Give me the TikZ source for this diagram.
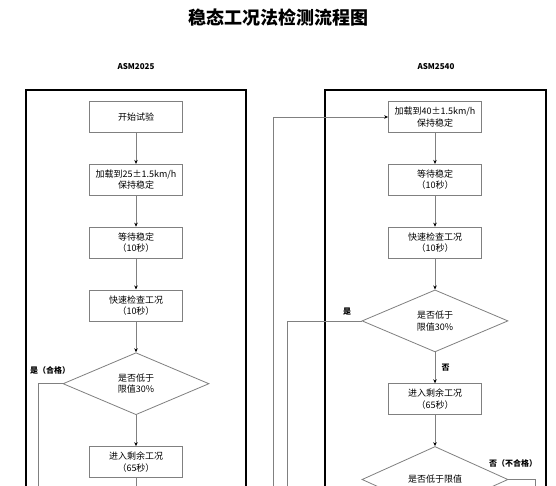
\documentclass[tikz,border=0pt]{standalone}
\usepackage{fontspec}
\setmainfont{Noto Sans CJK SC}
\usetikzlibrary{arrows.meta,positioning,shapes.geometric}

\begin{document}
\begin{tikzpicture}[x=1pt,y=-1pt,
  box/.style={draw=gray,line width=0.8pt,minimum width=93pt,minimum height=31pt,
    inner sep=1pt,align=center,font=\fontsize{9}{11.5}\selectfont},
  decide/.style={draw=gray,line width=0.8pt,diamond,minimum width=146pt,minimum height=62pt,
    inner sep=0pt,align=center,font=\fontsize{9}{11.5}\selectfont},
  flow/.style={draw=gray,line width=0.8pt,-{Stealth[length=4pt,width=3.5pt,color=black]}},
  plain/.style={draw=gray,line width=0.8pt},
  frame/.style={draw=black,line width=1.6pt},
  lab/.style={font=\bfseries\fontsize{8}{9}\selectfont},
  node distance=31pt]
\useasboundingbox (0,0) rectangle (556,485);
\clip (0,0) rectangle (556,485);
\fill[white] (0,0) rectangle (556,485);

% title and column heads
\node[font=\bfseries\fontsize{18}{20}\selectfont] (title) at (278,18) {稳态工况法检测流程图};
\node[lab] (headA) at (136,67) {ASM2025};
\node[lab] (headB) at (436,67) {ASM2540};

% frames
\draw[frame] (26,90) rectangle (246,520);
\draw[frame] (325,90) rectangle (546,520);

% ASM2025
\node[box] (a1) at (136,117) {开始试验};
\node[box,below=of a1] (a2) {加载到25±1.5km/h\\保持稳定};
\node[box,below=of a2] (a3) {等待稳定\\（10秒）};
\node[box,below=of a3] (a4) {快速检查工况\\（10秒）};
\node[decide,below=of a4] (ad) {是否低于\\限值30\%};
\node[box,below=of ad] (a5) {进入剩余工况\\（65秒）};
\coordinate (aend) at (136,520);
\coordinate (ayes) at (38,520);

\draw[flow] (a1) -- (a2);
\draw[flow] (a2) -- (a3);
\draw[flow] (a3) -- (a4);
\draw[flow] (a4) -- (ad);
\draw[flow] (ad) -- (a5);
\draw[plain] (a5) -- (aend);
\draw[plain] (ad.west) -| (ayes);
\node[lab] (ayeslab) at (50,370) {是（合格）};

% ASM2540
\node[box] (b1) at (435,117) {加载到40±1.5km/h\\保持稳定};
\node[box,below=of b1] (b2) {等待稳定\\（10秒）};
\node[box,below=of b2] (b3) {快速检查工况\\（10秒）};
\node[decide,below=of b3] (bd) {是否低于\\限值30\%};
\node[box,below=of bd] (b4) {进入剩余工况\\（65秒）};
\node[decide,below=of b4,minimum height=66pt] (bd2) {是否低于限值};
\coordinate (bback) at (273,520);
\coordinate (byes) at (287,520);
\coordinate (bno) at (535,520);

\draw[flow] (bback) |- (b1.west);
\draw[flow] (b1) -- (b2);
\draw[flow] (b2) -- (b3);
\draw[flow] (b3) -- (bd);
\draw[flow] (bd) -- node[lab,right=3pt] {否} (b4);
\draw[flow] (b4) -- (bd2);
\draw[plain] (bd.west) -| (byes);
\draw[plain] (bd2.east) -| (bno);
\node[lab] (byeslab) at (347,312) {是};
\node[lab] (bnolab) at (513,463) {否（不合格）};
\end{tikzpicture}
\end{document}
